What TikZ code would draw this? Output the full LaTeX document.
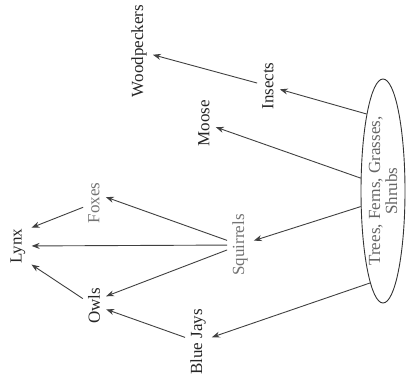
\documentclass[tikz,border=0pt]{standalone}
\usepackage{fontspec}
\setmainfont{Liberation Serif}
\usetikzlibrary{arrows.meta,shapes.geometric}
\begin{document}
\begin{tikzpicture}[
    x=1pt, y=-1pt,
    species/.style={rotate=90, font=\fontsize{17}{18}\selectfont, inner sep=5pt},
    plant node/.style={draw=black!80, line width=0.9pt, ellipse, rotate=90, minimum width=224pt, minimum height=44pt, inner sep=0pt, align=center, font=\fontsize{17}{17}\selectfont, text=black!60},
    feeds/.style={draw=black!75, line width=0.9pt, -{Stealth[length=8pt,width=6pt]}, shorten >=1pt}
]
\useasboundingbox (0,0) rectangle (406,379);

% Producers
\node[plant node] (plants) at (383,191) {Trees, Ferns, Grasses,\\Shrubs};

% Consumers
\foreach \name/\x/\y/\col/\txt in {
    woodpeckers/139/51/black!85/Woodpeckers,
    insects/268/86/black!85/Insects,
    moose/204/123/black!85/Moose,
    squirrels/240/245/black!55/Squirrels,
    foxes/94/203/black!55/Foxes,
    lynx/18/246/black!85/Lynx,
    owls/94/306/black!85/Owls,
    bluejays/198/342/black!85/Blue Jays} {
    \node[species, text=\col] (\name) at (\x,\y) {\txt};
}

% Who eats whom
\foreach \from/\to in {
    plants.12/insects, insects/woodpeckers, plants.60/moose,
    plants.125/squirrels, plants.172/bluejays,
    squirrels/foxes.300, squirrels/lynx, squirrels/owls.310,
    foxes/lynx.325, owls/lynx.215, bluejays/owls.255} {
    \draw[feeds] (\from) -- (\to);
}
\end{tikzpicture}
\end{document}
